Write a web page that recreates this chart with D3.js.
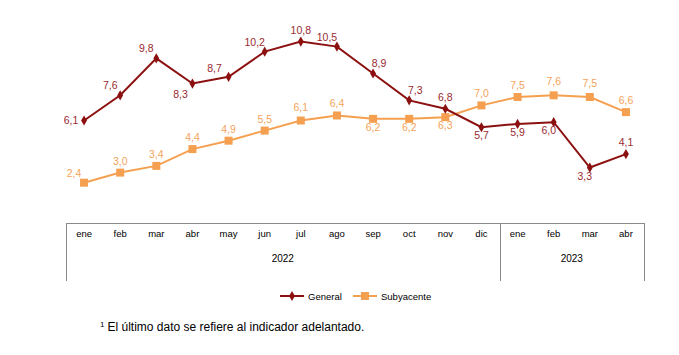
<!DOCTYPE html>
<html><head><meta charset="utf-8">
<script src="https://cdn.jsdelivr.net/npm/d3@7"></script>
<style>body{margin:0;background:#fff;}svg{display:block;font-family:"Liberation Sans",Arial,sans-serif;}</style>
</head><body>
<svg id="c" width="679" height="355"></svg>
<script>
const months = ["ene","feb","mar","abr","may","jun","jul","ago","sep","oct","nov","dic","ene","feb","mar","abr"];
const years = [{label:"2022", from:0, to:11},{label:"2023", from:12, to:15}];
const general = [6.1,7.6,9.8,8.3,8.7,10.2,10.8,10.5,8.9,7.3,6.8,5.7,5.9,6.0,3.3,4.1];
const subyacente = [2.4,3.0,3.4,4.4,4.9,5.5,6.1,6.4,6.2,6.2,6.3,7.0,7.5,7.6,7.5,6.6];
const generalLabelPos = ["left","upleft","upleft","downleft2","upleft2","upleft","up","upleft","upright","upright","up","down","down","downleft","downleft","up"];
const subLabelPos = ["upleft","up","up","up","up","up","up2","up","down","down","down","up","up","up2","up2","up"];
const footnote = "El último dato se refiere al indicador adelantado.";

const svg = d3.select("#c");
const left = 66, right = 644, top0 = 21.4, base = 223;
const x = d3.scaleBand().domain(d3.range(months.length)).range([left, right]);
const y = d3.scaleLinear().domain([0, 12]).range([base, top0]);
const cx = i => x(i) + x.bandwidth()/2;

const red = "#8c1010", redLbl = "#9a2a30", orange = "#f5a050", orangeLbl = "#f5a35a";

// axis box
const g = svg.append("g").attr("stroke", "#8a8a8a").attr("stroke-width", 1);
g.append("line").attr("x1", left).attr("x2", right).attr("y1", base+0.5).attr("y2", base+0.5);
[left, x(12), right].forEach(v => g.append("line").attr("x1", Math.round(v)+0.5).attr("x2", Math.round(v)+0.5).attr("y1", base).attr("y2", 281));

svg.append("g").selectAll("text").data(months).join("text")
  .attr("x", (d,i)=>cx(i)).attr("y", 237).attr("text-anchor","middle")
  .attr("font-size", 9.5).attr("fill","#000").text(d=>d);
svg.append("g").selectAll("text").data(years).join("text")
  .attr("x", d => (x(d.from) + x(d.to) + x.bandwidth())/2).attr("y", 262).attr("text-anchor","middle")
  .attr("font-size", 10).attr("fill","#000").text(d=>d.label);

const line = d3.line().x((d,i)=>cx(i)).y(d=>y(d));

svg.append("path").datum(subyacente).attr("d", line).attr("fill","none").attr("stroke", orange).attr("stroke-width", 2);
svg.append("path").datum(general).attr("d", line).attr("fill","none").attr("stroke", red).attr("stroke-width", 2);

svg.append("g").selectAll("rect").data(subyacente).join("rect")
  .attr("x",(d,i)=>cx(i)-4).attr("y",d=>y(d)-4).attr("width",8).attr("height",8).attr("fill",orange);
const diamond = d3.symbol().type(d3.symbolDiamond).size(30);
svg.append("g").selectAll("path").data(general).join("path")
  .attr("d", diamond).attr("transform",(d,i)=>`translate(${cx(i)},${y(d)})`).attr("fill", red);

const off = {left:[-13,3], upleft:[-10,-6], upleft2:[-14,-5], up:[0,-8], up2:[0,-10], upright:[6,-6], down:[0,12], downleft:[-5,12], downleft2:[-12,14]};
function labels(data, pos, color){
  svg.append("g").selectAll("text").data(data).join("text")
    .attr("x",(d,i)=>cx(i)+off[pos[i]][0]).attr("y",(d,i)=>y(d)+off[pos[i]][1])
    .attr("text-anchor","middle").attr("font-size", 10.5).attr("fill", color)
    .text(d=>d3.format(".1f")(d).replace(".", ","));
}
labels(general, generalLabelPos, redLbl);
labels(subyacente, subLabelPos, orangeLbl);

// legend
const lg = svg.append("g");
lg.append("line").attr("x1",280).attr("x2",304).attr("y1",296).attr("y2",296).attr("stroke",red).attr("stroke-width",2);
lg.append("path").attr("d",diamond).attr("transform","translate(292,296)").attr("fill",red);
lg.append("text").attr("x",308).attr("y",299.5).attr("font-size",9.5).text("General");
lg.append("line").attr("x1",353).attr("x2",377).attr("y1",296).attr("y2",296).attr("stroke",orange).attr("stroke-width",2);
lg.append("rect").attr("x",361).attr("y",292).attr("width",8).attr("height",8).attr("fill",orange);
lg.append("text").attr("x",381).attr("y",299.5).attr("font-size",9.5).text("Subyacente");

// footnote
const fn = svg.append("text").attr("x",100).attr("y",331).attr("font-size",12).attr("fill","#000");
fn.append("tspan").attr("font-size",8).attr("dy",-4).text("1");
fn.append("tspan").attr("dy",4).attr("dx",3).text(footnote);
</script>
</body></html>
